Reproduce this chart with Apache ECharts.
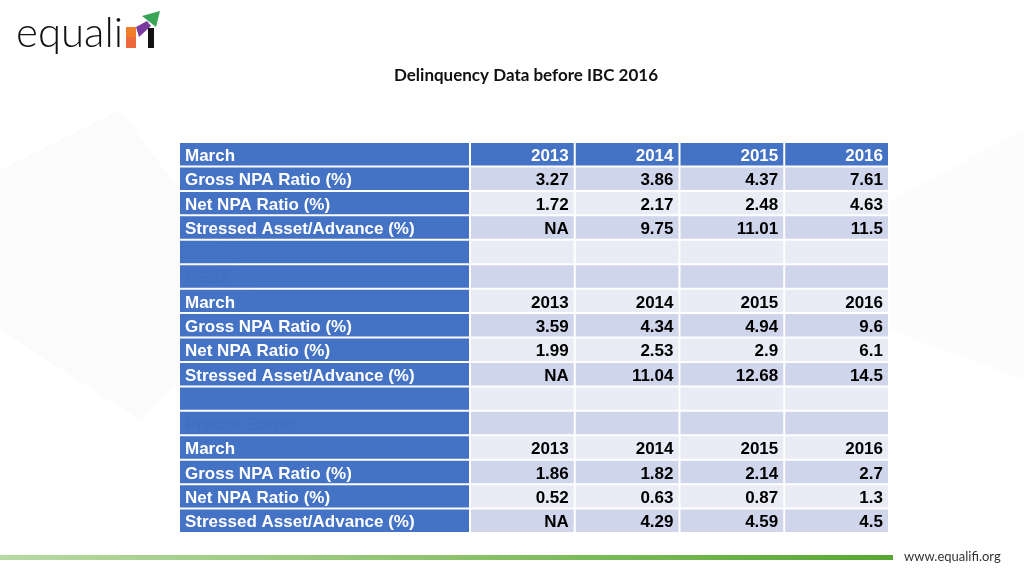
<!DOCTYPE html>
<html>
<head>
<meta charset="utf-8">
<script src="https://cdn.jsdelivr.net/npm/echarts@6/dist/echarts.min.js"></script>
<style>html,body{margin:0;padding:0;background:#fff}#c{width:1024px;height:576px}</style>
</head>
<body>
<div id="c"></div>
<script>
// ---- Data ----
const title = 'Delinquency Data before IBC 2016';
const years = ['2013', '2014', '2015', '2016'];
const metricLabels = ['Gross NPA Ratio (%)', 'Net NPA Ratio (%)', 'Stressed Asset/Advance (%)'];
const headerLabel = 'March';
const groupLabels = ['', 'PSBs', 'Private Banks'];

const allGross = [3.27, 3.86, 4.37, 7.61];
const allNet = [1.72, 2.17, 2.48, 4.63];
const allStressed = [null, 9.75, 11.01, 11.5];

const psbGross = [3.59, 4.34, 4.94, 9.6];
const psbNet = [1.99, 2.53, 2.9, 6.1];
const psbStressed = [null, 11.04, 12.68, 14.5];

const pvtGross = [1.86, 1.82, 2.14, 2.7];
const pvtNet = [0.52, 0.63, 0.87, 1.3];
const pvtStressed = [null, 4.29, 4.59, 4.5];

// ---- Build table rows ----
const blocks = [
  [allGross, allNet, allStressed],
  [psbGross, psbNet, psbStressed],
  [pvtGross, pvtNet, pvtStressed]
];
const rows = [];
blocks.forEach((blk, bi) => {
  if (bi > 0) {
    rows.push({ label: '', cells: ['', '', '', ''], type: 'blank' });
    rows.push({ label: groupLabels[bi], cells: ['', '', '', ''], type: 'group' });
  }
  rows.push({ label: headerLabel, cells: years.slice(), type: bi === 0 ? 'head' : 'year' });
  blk.forEach((vals, mi) => {
    rows.push({ label: metricLabels[mi], cells: vals.map(v => v == null ? 'NA' : String(v)), type: 'data' });
  });
});
const rowCats = rows.map((r, i) => 'r' + i);

const BLUE = '#4472C4', DARK = '#CFD5EA', LIGHT = '#E9EBF5';

const labelData = rows.map((r, i) => [0, i, r.label, r.type]);
const cellData = [];
rows.forEach((r, i) => r.cells.forEach((t, j) => cellData.push([j, i, t, r.type])));

function cellRect(api) {
  const c = api.coord([api.value(0), api.value(1)]);
  const s = api.size([1, 1]);
  return { x: c[0] - s[0] / 2, y: c[1] - s[1] / 2, w: s[0], h: s[1] };
}

const FONT = '"Liberation Sans", Arial, sans-serif';

const chart = echarts.init(document.getElementById('c'), null, { renderer: 'canvas' });
chart.setOption({
  animation: false,
  backgroundColor: '#ffffff',
  title: {
    text: title, left: 521, top: 62, textAlign: 'center',
    textStyle: { fontFamily: 'Lato, "Open Sans", sans-serif', fontWeight: 'bold', fontSize: 17, color: '#111' }
  },
  grid: [
    { left: 180, top: 143, width: 291, height: 391 },
    { left: 471, top: 143, width: 419, height: 391 }
  ],
  xAxis: [
    { type: 'category', gridIndex: 0, data: ['label'], show: false },
    { type: 'category', gridIndex: 1, data: years, show: false }
  ],
  yAxis: [
    { type: 'category', gridIndex: 0, data: rowCats, inverse: true, show: false },
    { type: 'category', gridIndex: 1, data: rowCats, inverse: true, show: false }
  ],
  series: [
    {
      type: 'custom', xAxisIndex: 0, yAxisIndex: 0, data: labelData, z: 3,
      renderItem: function (params, api) {
        const r = cellRect(api);
        const type = labelData[params.dataIndex][3];
        const txt = labelData[params.dataIndex][2];
        return {
          type: 'group',
          children: [
            { type: 'rect', shape: { x: r.x, y: r.y, width: r.w - 2, height: r.h - 2 }, style: { fill: BLUE } },
            { type: 'text', x: r.x + 5, y: r.y + r.h / 2 + 1,
              style: { text: txt, fill: type === 'group' ? '#416fc2' : '#ffffff', font: 'bold 17px ' + FONT,
                textAlign: 'left', textVerticalAlign: 'middle' } }
          ]
        };
      }
    },
    {
      type: 'custom', xAxisIndex: 1, yAxisIndex: 1, data: cellData, z: 3,
      renderItem: function (params, api) {
        const r = cellRect(api);
        const d = cellData[params.dataIndex];
        const rowIdx = d[1], type = d[3];
        let fill = rowIdx % 2 === 1 ? DARK : LIGHT;
        let color = '#000000';
        if (type === 'head') { fill = BLUE; color = '#ffffff'; }
        return {
          type: 'group',
          children: [
            { type: 'rect', shape: { x: r.x, y: r.y, width: r.w - 2, height: r.h - 2 }, style: { fill: fill } },
            { type: 'text', x: r.x + r.w - 7, y: r.y + r.h / 2 + 1,
              style: { text: d[2], fill: color, font: 'bold 17px ' + FONT,
                textAlign: 'right', textVerticalAlign: 'middle' } }
          ]
        };
      }
    }
  ],
  graphic: [
    // faint background swooshes
    { type: 'polygon', z: -1, shape: { points: [[0, 170], [120, 110], [260, 300], [140, 420], [0, 330]] }, style: { fill: '#fbfbfb' } },
    { type: 'polygon', z: -1, shape: { points: [[890, 200], [1024, 130], [1024, 380], [890, 330]] }, style: { fill: '#fcfcfc' } },
    // logo text
    { type: 'text', left: 16, top: 12, style: { text: 'equali', font: '300 42px Lato, "Open Sans", sans-serif', fill: '#111' } },
    // logo icon
    { type: 'rect', shape: { x: 126, y: 27, width: 10, height: 10 }, style: { fill: '#f07d2a' } },
    { type: 'rect', shape: { x: 126, y: 37, width: 10, height: 11 }, style: { fill: '#ef6a3a' } },
    { type: 'polygon', shape: { points: [[136, 27], [147, 21], [151, 26], [139, 37]] }, style: { fill: '#7a3aa0' } },
    { type: 'rect', shape: { x: 148, y: 28, width: 6, height: 20 }, style: { fill: '#111' } },
    { type: 'polygon', shape: { points: [[142, 16], [160, 11], [156, 27]] }, style: { fill: '#3aa557' } },
    // footer line
    { type: 'rect', shape: { x: 0, y: 555, width: 893, height: 5 },
      style: { fill: new echarts.graphic.LinearGradient(0, 0, 1, 0, [
        { offset: 0, color: '#b7d9a3' }, { offset: 0.5, color: '#8cc36b' }, { offset: 1, color: '#56a832' }]) } },
    { type: 'text', left: 904, top: 550, style: { text: 'www.equalifi.org', font: '13px Lato, "Open Sans", sans-serif', fill: '#333' } }
  ]
});
</script>
</body>
</html>
